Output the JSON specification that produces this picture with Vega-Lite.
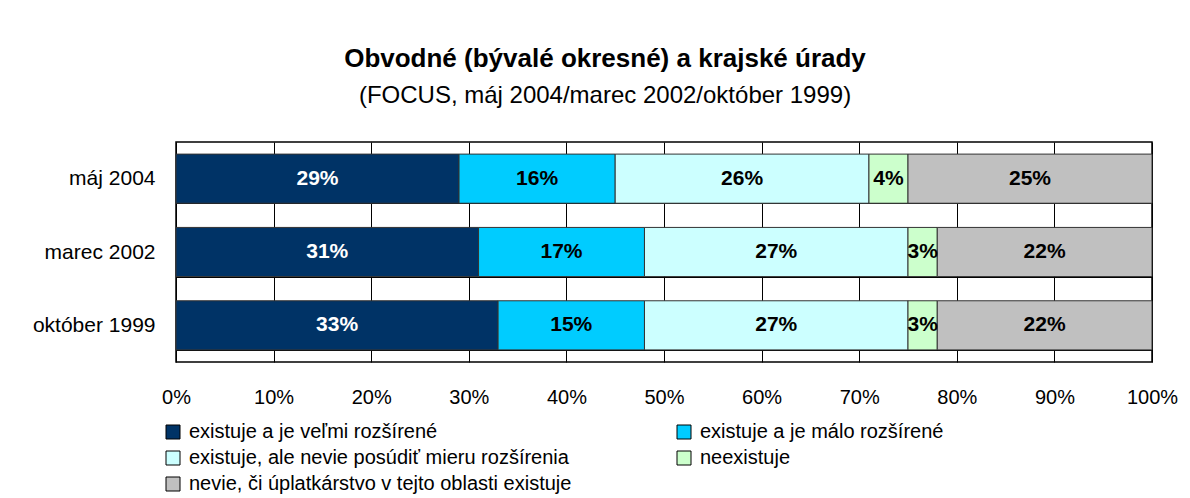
{
  "$schema": "https://vega.github.io/schema/vega-lite/v6.json",
  "width": 976,
  "height": 220,
  "autosize": {"type": "none"},
  "padding": {"left": 176, "top": 142, "right": 38, "bottom": 136},
  "background": "white",
  "title": {
    "text": "Obvodné (bývalé okresné) a krajské úrady",
    "subtitle": "(FOCUS, máj 2004/marec 2002/október 1999)",
    "anchor": "middle",
    "dx": -59,
    "font": "Liberation Sans",
    "fontSize": 26,
    "fontWeight": "bold",
    "color": "black",
    "subtitleFont": "Liberation Sans",
    "subtitleFontSize": 24,
    "subtitleColor": "black",
    "subtitlePadding": 12,
    "offset": 23
  },
  "data": {
    "values": [
      {"obdobie": "máj 2004", "kategoria": "existuje a je veľmi rozšírené", "poradie": 1, "hodnota": 0.29},
      {"obdobie": "máj 2004", "kategoria": "existuje a je málo rozšírené", "poradie": 2, "hodnota": 0.16},
      {"obdobie": "máj 2004", "kategoria": "existuje, ale nevie posúdiť mieru rozšírenia", "poradie": 3, "hodnota": 0.26},
      {"obdobie": "máj 2004", "kategoria": "neexistuje", "poradie": 4, "hodnota": 0.04},
      {"obdobie": "máj 2004", "kategoria": "nevie, či úplatkárstvo v tejto oblasti existuje", "poradie": 5, "hodnota": 0.25},
      {"obdobie": "marec 2002", "kategoria": "existuje a je veľmi rozšírené", "poradie": 1, "hodnota": 0.31},
      {"obdobie": "marec 2002", "kategoria": "existuje a je málo rozšírené", "poradie": 2, "hodnota": 0.17},
      {"obdobie": "marec 2002", "kategoria": "existuje, ale nevie posúdiť mieru rozšírenia", "poradie": 3, "hodnota": 0.27},
      {"obdobie": "marec 2002", "kategoria": "neexistuje", "poradie": 4, "hodnota": 0.03},
      {"obdobie": "marec 2002", "kategoria": "nevie, či úplatkárstvo v tejto oblasti existuje", "poradie": 5, "hodnota": 0.22},
      {"obdobie": "október 1999", "kategoria": "existuje a je veľmi rozšírené", "poradie": 1, "hodnota": 0.33},
      {"obdobie": "október 1999", "kategoria": "existuje a je málo rozšírené", "poradie": 2, "hodnota": 0.15},
      {"obdobie": "október 1999", "kategoria": "existuje, ale nevie posúdiť mieru rozšírenia", "poradie": 3, "hodnota": 0.27},
      {"obdobie": "október 1999", "kategoria": "neexistuje", "poradie": 4, "hodnota": 0.03},
      {"obdobie": "október 1999", "kategoria": "nevie, či úplatkárstvo v tejto oblasti existuje", "poradie": 5, "hodnota": 0.22}
    ]
  },
  "encoding": {
    "y": {
      "field": "obdobie",
      "type": "nominal",
      "sort": ["máj 2004", "marec 2002", "október 1999"],
      "scale": {"paddingInner": 0.33, "paddingOuter": 0.165},
      "axis": {
        "title": null,
        "ticks": false,
        "domain": false,
        "grid": true,
        "tickBand": "extent",
        "gridColor": "black",
        "gridOpacity": 1,
        "gridWidth": 1,
        "labelFont": "Liberation Sans",
        "labelFontSize": 21,
        "labelColor": "black",
        "labelPadding": 21
      }
    },
    "x": {
      "field": "hodnota",
      "type": "quantitative",
      "stack": "zero",
      "scale": {"domain": [0, 1], "nice": false},
      "axis": {
        "title": null,
        "format": ".0%",
        "values": [0, 0.1, 0.2, 0.3, 0.4, 0.5, 0.6, 0.7, 0.8, 0.9, 1],
        "ticks": false,
        "domain": false,
        "grid": true,
        "gridColor": "black",
        "gridOpacity": 1,
        "gridWidth": 1,
        "labelFont": "Liberation Sans",
        "labelFontSize": 20,
        "labelColor": "black",
        "labelPadding": 25,
        "labelFlush": false
      }
    },
    "order": {"field": "poradie", "type": "quantitative"}
  },
  "layer": [
    {
      "mark": {"type": "bar", "stroke": "#333333", "strokeWidth": 1},
      "encoding": {
        "color": {
          "field": "kategoria",
          "type": "nominal",
          "scale": {
            "domain": [
              "existuje a je veľmi rozšírené",
              "existuje a je málo rozšírené",
              "existuje, ale nevie posúdiť mieru rozšírenia",
              "neexistuje",
              "nevie, či úplatkárstvo v tejto oblasti existuje"
            ],
            "range": ["#003366", "#00CCFF", "#CCFFFF", "#CCFFCC", "#C0C0C0"]
          },
          "legend": {
            "orient": "none",
            "legendX": -13,
            "legendY": 280,
            "direction": "horizontal",
            "columns": 2,
            "title": null,
            "symbolType": "square",
            "symbolSize": 196,
            "symbolStrokeColor": "black",
            "symbolStrokeWidth": 1,
            "symbolOpacity": 1,
            "labelFont": "Liberation Sans",
            "labelFontSize": 20,
            "labelColor": "black",
            "labelOffset": 6,
            "labelLimit": 600,
            "rowPadding": 6,
            "columnPadding": 102
          }
        }
      }
    },
    {
      "mark": {"type": "text", "font": "Liberation Sans", "fontSize": 21, "fontWeight": "bold"},
      "encoding": {
        "x": {"field": "hodnota", "type": "quantitative", "stack": "zero", "bandPosition": 0.5},
        "detail": {"field": "kategoria"},
        "text": {"field": "hodnota", "type": "quantitative", "format": ".0%"},
        "color": {"condition": {"test": "datum.poradie === 1", "value": "white"}, "value": "black"}
      }
    }
  ],
  "config": {"view": {"stroke": "black", "strokeWidth": 1.5}}
}
